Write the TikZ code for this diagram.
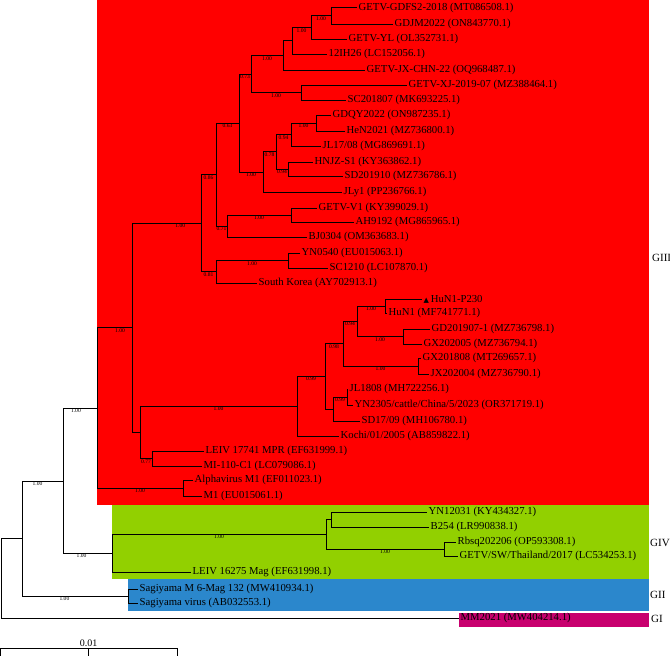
\documentclass[tikz,border=0pt]{standalone}
\usepackage{fontspec}
\setmainfont{Liberation Serif}
\newfontfamily\trifont{DejaVu Sans}

\definecolor{cgiii}{RGB}{255,0,0}
\definecolor{cgiv}{RGB}{146,208,0}
\definecolor{cgii}{RGB}{43,135,204}
\definecolor{cgi}{RGB}{200,0,110}
\newcommand{\leafsize}{\fontsize{10.7}{12}\selectfont}
\newcommand{\bssize}{\fontsize{5.6}{6}\selectfont}

\begin{document}
\begin{tikzpicture}[x=1pt, y=-1pt,
  leaf/.style={anchor=west, inner sep=1.5pt, font=\leafsize},
  grp/.style={anchor=west, inner sep=0pt, font=\fontsize{11}{12}\selectfont},
  br/.style={line width=0.7pt},
  bs/.style={pos=0.75, below, inner sep=0.6pt, font=\bssize},
]
\useasboundingbox (0,0) rectangle (670,656);
% --- genotype bands ---------------------------------------------------
\fill[cgiii] (97,0) rectangle (649,505);
\fill[cgiv] (112,505) rectangle (649,579);
\fill[cgii] (128,579) rectangle (649,611);
\fill[cgi] (459,613) rectangle (649,627);

% --- leaves -------------------------------------------------------------
\node[leaf] (l1) at (357,7.5) {GETV-GDFS2-2018 (MT086508.1)};
\node[leaf] (l2) at (393,24) {GDJM2022 (ON843770.1)};
\node[leaf] (l3) at (347,39) {GETV-YL (OL352731.1)};
\node[leaf] (l4) at (327,54) {12IH26 (LC152056.1)};
\node[leaf] (l5) at (365,70) {GETV-JX-CHN-22 (OQ968487.1)};
\node[leaf] (l6) at (407,85) {GETV-XJ-2019-07 (MZ388464.1)};
\node[leaf] (l7) at (346,100) {SC201807 (MK693225.1)};
\node[leaf] (l8) at (331,115) {GDQY2022 (ON987235.1)};
\node[leaf] (l9) at (345,131) {HeN2021 (MZ736800.1)};
\node[leaf] (l10) at (321,146) {JL17/08 (MG869691.1)};
\node[leaf] (l11) at (313,162) {HNJZ-S1 (KY363862.1)};
\node[leaf] (l12) at (343,176) {SD201910 (MZ736786.1)};
\node[leaf] (l13) at (342,192) {JLy1 (PP236766.1)};
\node[leaf] (l14) at (317,208) {GETV-V1 (KY399029.1)};
\node[leaf] (l15) at (354,222) {AH9192 (MG865965.1)};
\node[leaf] (l16) at (307,237) {BJ0304 (OM363683.1)};
\node[leaf] (l17) at (300,253) {YN0540 (EU015063.1)};
\node[leaf] (l18) at (328,268) {SC1210 (LC107870.1)};
\node[leaf] (l19) at (257,283) {South Korea (AY702913.1)};
\node[leaf] (l20) at (422,299) {{\trifont\fontsize{7}{8}\selectfont ▲}\,HuN1-P230};
\node[leaf] (l21) at (387,313) {HuN1 (MF741771.1)};
\node[leaf] (l22) at (430,329) {GD201907-1 (MZ736798.1)};
\node[leaf] (l23) at (422,344) {GX202005 (MZ736794.1)};
\node[leaf] (l24) at (421,358) {GX201808 (MT269657.1)};
\node[leaf] (l25) at (429,374) {JX202004 (MZ736790.1)};
\node[leaf] (l26) at (348,389) {JL1808 (MH722256.1)};
\node[leaf] (l27) at (353,405) {YN2305/cattle/China/5/2023 (OR371719.1)};
\node[leaf] (l28) at (360,421) {SD17/09 (MH106780.1)};
\node[leaf] (l29) at (339,436) {Kochi/01/2005 (AB859822.1)};
\node[leaf] (l30) at (204,451) {LEIV 17741 MPR (EF631999.1)};
\node[leaf] (l31) at (202,466) {MI-110-C1 (LC079086.1)};
\node[leaf] (l32) at (193,480) {Alphavirus M1 (EF011023.1)};
\node[leaf] (l33) at (202,496) {M1 (EU015061.1)};
\node[leaf] (l34) at (427,512) {YN12031 (KY434327.1)};
\node[leaf] (l35) at (429,527) {B254 (LR990838.1)};
\node[leaf] (l36) at (456,542) {Rbsq202206 (OP593308.1)};
\node[leaf] (l37) at (458,556) {GETV/SW/Thailand/2017 (LC534253.1)};
\node[leaf] (l38) at (191,572) {LEIV 16275 Mag (EF631998.1)};
\node[leaf] (l39) at (138,589) {Sagiyama M 6-Mag 132 (MW410934.1)};
\node[leaf] (l40) at (138,603) {Sagiyama virus (AB032553.1)};
\node[leaf] (l41) at (459,618) {MM2021 (MW404214.1)};

% --- internal nodes -----------------------------------------------------
\coordinate (A) at (331,15.75);
\coordinate (B) at (311,27.4);
\coordinate (C) at (292,40.7);
\coordinate (D) at (283,55.4);
\coordinate (E) at (301,92.5);
\coordinate (F) at (251,74);
\coordinate (H) at (316,123);
\coordinate (I) at (291,134.5);
\coordinate (J) at (288,169);
\coordinate (K) at (276,151.75);
\coordinate (L) at (263,171.9);
\coordinate (G) at (239,123);
\coordinate (M) at (291,215);
\coordinate (N) at (227,226);
\coordinate (P) at (216,174.5);
\coordinate (R) at (288,260.5);
\coordinate (Q) at (216,271.75);
\coordinate (S) at (201,223);
\coordinate (FF) at (385,306);
\coordinate (GG) at (403,336.5);
\coordinate (HH) at (357,321);
\coordinate (JJ) at (418,366);
\coordinate (II) at (343,343.5);
\coordinate (NN) at (347,397);
\coordinate (MM) at (333,409);
\coordinate (LL) at (325,376);
\coordinate (KK) at (297,406);
\coordinate (U) at (152,458.5);
\coordinate (V) at (140,432);
\coordinate (T) at (132,327.5);
\coordinate (X) at (183,488);
\coordinate (W) at (97,408);
\coordinate (AA) at (331,519.5);
\coordinate (BB) at (444,549);
\coordinate (CC) at (326,534);
\coordinate (DD) at (112,553);
\coordinate (Y) at (63,481);
\coordinate (Z) at (128,596);
\coordinate (EE) at (22,538);
\coordinate (root) at (1,578);

% --- branches, GIII -----------------------------------------------------
\draw[br] (A) |- (l1.west) (A) |- (l2.west);
\draw[br] (B) |- node[bs]{1.00} (A) (B) |- (l3.west);
\draw[br] (C) |- node[bs]{1.00} (B) (C) |- (l4.west);
\draw[br] (D) |- (C) (D) |- (l5.west);
\draw[br] (E) |- (l6.west) (E) |- (l7.west);
\draw[br] (F) |- node[bs]{1.00} (D) (F) |- node[bs]{1.00} (E);
\draw[br] (H) |- (l8.west) (H) |- (l9.west);
\draw[br] (I) |- node[bs]{1.00} (H) (I) |- (l10.west);
\draw[br] (J) |- (l11.west) (J) |- (l12.west);
\draw[br] (K) |- node[bs]{0.94} (I) (K) |- node[bs]{0.94} (J);
\draw[br] (L) |- node[bs]{0.78} (K) (L) |- (l13.west);
\draw[br] (G) |- node[bs]{0.73} (F) (G) |- node[bs]{1.00} (L);
\draw[br] (M) |- (l14.west) (M) |- (l15.west);
\draw[br] (N) |- node[bs]{1.00} (M) (N) |- (l16.west);
\draw[br] (P) |- node[bs]{0.63} (G) (P) |- node[bs]{0.71} (N);
\draw[br] (R) |- (l17.west) (R) |- (l18.west);
\draw[br] (Q) |- node[bs]{1.00} (R) (Q) |- (l19.west);
\draw[br] (S) |- node[bs]{0.86} (P) (S) |- node[bs]{0.81} (Q);
\draw[br] (FF) |- (l20.west) (FF) |- (l21.west);
\draw[br] (GG) |- (l22.west) (GG) |- (l23.west);
\draw[br] (HH) |- node[bs]{1.00} (FF) (HH) |- node[bs]{1.00} (GG);
\draw[br] (JJ) |- (l24.west) (JJ) |- (l25.west);
\draw[br] (II) |- node[bs]{0.94} (HH) (II) |- node[bs]{1.00} (JJ);
\draw[br] (NN) |- (l26.west) (NN) |- (l27.west);
\draw[br] (MM) |- node[bs]{0.99} (NN) (MM) |- (l28.west);
\draw[br] (LL) |- node[bs]{0.98} (II) (LL) |- (MM);
\draw[br] (KK) |- node[bs]{0.99} (LL) (KK) |- (l29.west);
\draw[br] (U) |- (l30.west) (U) |- (l31.west);
\draw[br] (V) |- node[bs]{1.00} (KK) (V) |- node[bs]{0.77} (U);
\draw[br] (T) |- node[bs, pos=0.85]{1.00} (S) (T) |- (V);
\draw[br] (X) |- (l32.west) (X) |- (l33.west);
\draw[br] (W) |- node[bs, pos=0.83]{1.00} (T) (W) |- node[bs]{1.00} (X);
% --- GIV, GII, GI -------------------------------------------------------
\draw[br] (AA) |- (l34.west) (AA) |- (l35.west);
\draw[br] (BB) |- (l36.west) (BB) |- (l37.west);
\draw[br] (CC) |- (AA) (CC) |- node[bs]{1.00} (BB);
\draw[br] (DD) |- node[bs]{1.00} (CC) (DD) |- (l38.west);
\draw[br] (Y) |- node[bs, pos=0.69]{1.00} (W) (Y) |- node[bs, pos=0.69]{1.00} (DD);
\draw[br] (Z) |- (l39.west) (Z) |- (l40.west);
\draw[br] (EE) |- node[bs, pos=0.69]{1.00} (Y) (EE) |- node[bs, pos=0.7]{1.00} (Z);
\draw[br] (root) |- (EE) (root) |- (l41.west);

% --- genotype names -----------------------------------------------------
\node[grp] (giii) at (652,258) {GIII};
\node[grp] (giv) at (650,543) {GIV};
\node[grp] (gii) at (650,595) {GII};
\node[grp] (gi) at (651,619) {GI};

% --- scale bar ----------------------------------------------------------
\coordinate (sb0) at (0.5,648);
\coordinate (sbm) at (88.5,648);
\coordinate (sb1) at (177,648);
\draw[br] (sb0) -- (sb1);
\draw[br] (sb0) -- ++(0,8) (sbm) -- ++(0,8) (sb1) -- ++(0,8);
\node[anchor=south, inner sep=0.8pt, font=\fontsize{10}{12}\selectfont] (sblab)
  at (sbm) {0.01};
\end{tikzpicture}
\end{document}
